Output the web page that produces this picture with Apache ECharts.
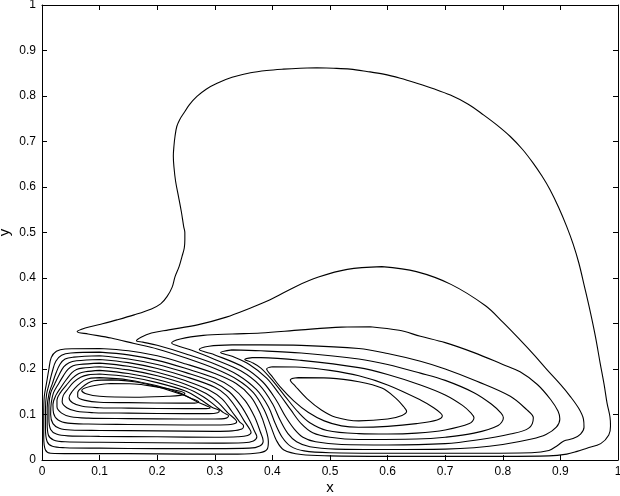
<!DOCTYPE html>
<html><head><meta charset="utf-8">
<script src="https://cdn.jsdelivr.net/npm/echarts@6/dist/echarts.min.js"></script>
<style>html,body{margin:0;padding:0;background:#fff}#c{width:620px;height:496px}</style>
</head><body><div id="c"></div>
<script>
// Tick labels
var xTicks = [0,0.1,0.2,0.3,0.4,0.5,0.6,0.7,0.8,0.9,1];
var yTicks = [0,0.1,0.2,0.3,0.4,0.5,0.6,0.7,0.8,0.9,1];

// Left vortex contours (outer A0 -> inner A10), [x, y]
var A0 = [[0.04,0.244],[0.1,0.245],[0.15,0.24],[0.2,0.229],[0.25,0.211],[0.3,0.19],[0.337,0.168],[0.362,0.14],[0.378,0.105],[0.388,0.07],[0.393,0.04],[0.391,0.024],[0.378,0.016],[0.34,0.013],[0.25,0.013],[0.15,0.014],[0.05,0.014],[0.015,0.015],[0.006,0.022],[0.003,0.05],[0.003,0.1],[0.004,0.14],[0.008,0.17],[0.012,0.2],[0.016,0.225],[0.025,0.239],[0.04,0.244]];
var A1 = [[0.05,0.235],[0.1,0.237],[0.15,0.231],[0.2,0.219],[0.25,0.201],[0.3,0.18],[0.33,0.159],[0.353,0.13],[0.369,0.095],[0.379,0.062],[0.384,0.042],[0.378,0.031],[0.36,0.026],[0.3,0.025],[0.2,0.025],[0.1,0.026],[0.04,0.027],[0.018,0.03],[0.009,0.04],[0.006,0.07],[0.006,0.11],[0.008,0.145],[0.013,0.17],[0.018,0.195],[0.024,0.217],[0.034,0.23],[0.05,0.235]];
var A2 = [[0.055,0.226],[0.1,0.229],[0.15,0.222],[0.2,0.21],[0.25,0.192],[0.3,0.17],[0.325,0.15],[0.345,0.12],[0.36,0.088],[0.369,0.063],[0.373,0.051],[0.367,0.042],[0.35,0.038],[0.3,0.037],[0.2,0.038],[0.1,0.039],[0.04,0.04],[0.02,0.044],[0.011,0.055],[0.009,0.08],[0.009,0.115],[0.012,0.145],[0.018,0.168],[0.024,0.19],[0.031,0.21],[0.04,0.222],[0.055,0.226]];
var A3 = [[0.06,0.218],[0.1,0.221],[0.15,0.214],[0.2,0.201],[0.25,0.183],[0.3,0.16],[0.32,0.142],[0.338,0.113],[0.351,0.086],[0.36,0.069],[0.363,0.061],[0.357,0.054],[0.34,0.051],[0.3,0.05],[0.2,0.051],[0.1,0.052],[0.045,0.053],[0.025,0.057],[0.015,0.067],[0.012,0.09],[0.012,0.12],[0.015,0.147],[0.022,0.167],[0.03,0.188],[0.038,0.205],[0.047,0.214],[0.06,0.218]];
var A4 = [[0.065,0.21],[0.1,0.213],[0.15,0.206],[0.2,0.193],[0.25,0.174],[0.29,0.154],[0.313,0.134],[0.33,0.106],[0.343,0.084],[0.35,0.075],[0.347,0.068],[0.33,0.064],[0.3,0.063],[0.2,0.064],[0.1,0.065],[0.05,0.066],[0.03,0.07],[0.019,0.08],[0.015,0.1],[0.016,0.125],[0.02,0.148],[0.028,0.166],[0.037,0.185],[0.045,0.199],[0.054,0.207],[0.065,0.21]];
var A5 = [[0.07,0.202],[0.1,0.205],[0.15,0.198],[0.2,0.185],[0.25,0.166],[0.285,0.146],[0.306,0.126],[0.323,0.103],[0.335,0.09],[0.338,0.084],[0.332,0.079],[0.31,0.077],[0.25,0.077],[0.15,0.078],[0.08,0.079],[0.045,0.081],[0.028,0.088],[0.02,0.103],[0.019,0.122],[0.024,0.142],[0.033,0.16],[0.043,0.178],[0.052,0.192],[0.06,0.199],[0.07,0.202]];
var A6 = [[0.075,0.194],[0.1,0.197],[0.15,0.19],[0.2,0.177],[0.25,0.158],[0.28,0.139],[0.3,0.12],[0.315,0.104],[0.324,0.097],[0.32,0.092],[0.3,0.09],[0.25,0.09],[0.15,0.091],[0.08,0.092],[0.05,0.095],[0.034,0.103],[0.026,0.117],[0.026,0.132],[0.032,0.148],[0.042,0.164],[0.053,0.18],[0.064,0.19],[0.075,0.194]];
var A7 = [[0.08,0.187],[0.1,0.189],[0.15,0.183],[0.2,0.17],[0.25,0.151],[0.275,0.133],[0.295,0.116],[0.308,0.108],[0.305,0.104],[0.29,0.102],[0.25,0.102],[0.15,0.103],[0.09,0.104],[0.06,0.107],[0.043,0.115],[0.035,0.128],[0.037,0.142],[0.045,0.156],[0.055,0.171],[0.067,0.182],[0.08,0.187]];
var A8 = [[0.085,0.18],[0.1,0.181],[0.15,0.176],[0.2,0.163],[0.24,0.147],[0.265,0.131],[0.285,0.119],[0.292,0.115],[0.285,0.113],[0.25,0.113],[0.15,0.114],[0.1,0.115],[0.07,0.118],[0.053,0.126],[0.047,0.137],[0.052,0.15],[0.062,0.164],[0.073,0.175],[0.085,0.18]];
var A9 = [[0.09,0.174],[0.12,0.176],[0.16,0.172],[0.2,0.161],[0.24,0.145],[0.262,0.134],[0.272,0.128],[0.265,0.125],[0.24,0.125],[0.15,0.126],[0.1,0.127],[0.075,0.131],[0.062,0.139],[0.062,0.148],[0.07,0.16],[0.08,0.169],[0.09,0.174]];
var A10 = [[0.069,0.153],[0.085,0.162],[0.119,0.168],[0.16,0.167],[0.188,0.163],[0.22,0.156],[0.24,0.151],[0.248,0.146],[0.24,0.142],[0.217,0.14],[0.16,0.138],[0.1,0.14],[0.078,0.145],[0.069,0.153]];

// Right vortex contours (outer B0 -> inner B7)
var B0 = [[0.061,0.282],[0.075,0.29],[0.1,0.298],[0.13,0.308],[0.16,0.319],[0.19,0.332],[0.206,0.343],[0.217,0.359],[0.226,0.38],[0.231,0.403],[0.238,0.425],[0.243,0.447],[0.247,0.466],[0.248,0.484],[0.248,0.5],[0.246,0.513],[0.242,0.545],[0.237,0.579],[0.232,0.612],[0.229,0.645],[0.228,0.668],[0.229,0.689],[0.231,0.712],[0.234,0.733],[0.239,0.748],[0.246,0.762],[0.256,0.781],[0.269,0.799],[0.285,0.815],[0.304,0.828],[0.33,0.841],[0.362,0.851],[0.39,0.856],[0.419,0.859],[0.448,0.861],[0.477,0.862],[0.506,0.861],[0.535,0.859],[0.564,0.854],[0.593,0.848],[0.622,0.839],[0.651,0.828],[0.68,0.816],[0.709,0.802],[0.74,0.782],[0.767,0.758],[0.79,0.736],[0.813,0.711],[0.834,0.683],[0.853,0.652],[0.868,0.624],[0.882,0.594],[0.897,0.555],[0.911,0.513],[0.922,0.475],[0.932,0.433],[0.942,0.38],[0.952,0.325],[0.961,0.27],[0.969,0.213],[0.976,0.165],[0.981,0.125],[0.986,0.095],[0.987,0.075],[0.984,0.055],[0.97,0.036],[0.946,0.026],[0.929,0.019],[0.911,0.013],[0.88,0.009],[0.8,0.008],[0.7,0.008],[0.6,0.008],[0.5,0.009],[0.45,0.012],[0.42,0.022],[0.407,0.043],[0.397,0.075],[0.385,0.112],[0.367,0.148],[0.34,0.176],[0.3,0.201],[0.25,0.224],[0.2,0.244],[0.16,0.256],[0.12,0.268],[0.08,0.277],[0.061,0.282]];
var B1 = [[0.164,0.262],[0.172,0.27],[0.19,0.279],[0.22,0.286],[0.27,0.297],[0.32,0.314],[0.36,0.333],[0.396,0.352],[0.44,0.381],[0.48,0.402],[0.53,0.419],[0.59,0.425],[0.65,0.414],[0.71,0.386],[0.77,0.339],[0.8,0.303],[0.83,0.264],[0.855,0.23],[0.877,0.198],[0.9,0.166],[0.917,0.14],[0.932,0.113],[0.94,0.09],[0.941,0.072],[0.935,0.057],[0.922,0.047],[0.906,0.042],[0.895,0.032],[0.88,0.021],[0.85,0.016],[0.75,0.015],[0.6,0.015],[0.5,0.016],[0.455,0.02],[0.432,0.03],[0.417,0.05],[0.405,0.08],[0.393,0.117],[0.372,0.155],[0.34,0.187],[0.3,0.211],[0.25,0.233],[0.2,0.252],[0.175,0.259],[0.164,0.262]];
var B2 = [[0.225,0.257],[0.24,0.266],[0.28,0.274],[0.33,0.277],[0.38,0.279],[0.45,0.286],[0.52,0.292],[0.57,0.293],[0.62,0.285],[0.657,0.272],[0.7,0.258],[0.75,0.236],[0.8,0.21],[0.83,0.194],[0.86,0.166],[0.883,0.133],[0.896,0.107],[0.899,0.09],[0.893,0.072],[0.875,0.056],[0.85,0.046],[0.8,0.034],[0.75,0.027],[0.7,0.024],[0.6,0.023],[0.51,0.024],[0.465,0.029],[0.442,0.04],[0.427,0.058],[0.414,0.086],[0.4,0.124],[0.378,0.164],[0.345,0.196],[0.3,0.221],[0.26,0.241],[0.235,0.251],[0.225,0.257]];
var B3 = [[0.273,0.243],[0.29,0.25],[0.33,0.253],[0.38,0.253],[0.45,0.252],[0.55,0.245],[0.6,0.234],[0.657,0.217],[0.7,0.2],[0.755,0.173],[0.813,0.14],[0.842,0.11],[0.853,0.093],[0.845,0.07],[0.813,0.057],[0.755,0.044],[0.7,0.036],[0.6,0.033],[0.52,0.034],[0.475,0.04],[0.453,0.05],[0.438,0.068],[0.423,0.095],[0.406,0.133],[0.383,0.172],[0.35,0.204],[0.3,0.231],[0.285,0.237],[0.273,0.243]];
var B4 = [[0.31,0.236],[0.33,0.242],[0.38,0.24],[0.45,0.235],[0.55,0.222],[0.6,0.21],[0.657,0.191],[0.7,0.175],[0.75,0.148],[0.78,0.123],[0.797,0.103],[0.801,0.093],[0.792,0.076],[0.75,0.059],[0.7,0.05],[0.65,0.046],[0.55,0.045],[0.5,0.05],[0.47,0.06],[0.45,0.08],[0.432,0.11],[0.412,0.145],[0.39,0.18],[0.36,0.21],[0.33,0.228],[0.31,0.236]];
var B5 = [[0.352,0.221],[0.365,0.225],[0.38,0.225],[0.45,0.219],[0.55,0.203],[0.6,0.188],[0.657,0.165],[0.7,0.143],[0.73,0.12],[0.745,0.103],[0.75,0.093],[0.742,0.08],[0.7,0.066],[0.65,0.059],[0.6,0.057],[0.55,0.058],[0.495,0.065],[0.465,0.082],[0.445,0.105],[0.422,0.14],[0.4,0.175],[0.38,0.202],[0.365,0.214],[0.352,0.221]];
var B6 = [[0.39,0.2],[0.4,0.205],[0.45,0.204],[0.5,0.197],[0.55,0.185],[0.6,0.165],[0.657,0.132],[0.68,0.115],[0.692,0.103],[0.695,0.097],[0.686,0.088],[0.65,0.08],[0.6,0.074],[0.55,0.072],[0.52,0.075],[0.49,0.086],[0.462,0.105],[0.437,0.13],[0.414,0.16],[0.398,0.186],[0.39,0.2]];
var B7 = [[0.431,0.176],[0.445,0.181],[0.5,0.18],[0.55,0.172],[0.59,0.158],[0.615,0.135],[0.628,0.117],[0.633,0.107],[0.625,0.098],[0.6,0.09],[0.55,0.086],[0.51,0.094],[0.485,0.11],[0.46,0.135],[0.44,0.162],[0.431,0.176]];

var contours = [A0,A1,A2,A3,A4,A5,A6,A7,A8,A9,A10,B0,B1,B2,B3,B4,B5,B6,B7];

// start each closed loop at its highest point so the seam falls on a flat stretch
function startAtTop(loop){
  var pts = loop.slice(0, loop.length-1);
  var k = 0;
  for (var i=1;i<pts.length;i++) if (pts[i][1] > pts[k][1]) k = i;
  var out = pts.slice(k).concat(pts.slice(0,k));
  out.push(out[0]);
  return out;
}

var FONT = 'Liberation Sans, Arial, Helvetica, sans-serif';
var chart = echarts.init(document.getElementById('c'), null, {renderer:'canvas'});
var series = contours.map(function(c){
  return {type:'line', data:startAtTop(c), showSymbol:false, smooth:0.35, silent:true,
    lineStyle:{color:'#000', width:1.1}, xAxisIndex:0, yAxisIndex:0};
});
function axisCommon(){
  return {type:'value', min:0, max:1, interval:0.1,
    axisLine:{show:true, onZero:false, lineStyle:{color:'#000', width:1}},
    axisTick:{show:true, inside:true, length:5, lineStyle:{color:'#000'}},
    splitLine:{show:false}};
}
var xb = axisCommon(); xb.position='bottom';
xb.axisLabel={color:'#000', fontSize:12, fontFamily:FONT, margin:6};
xb.name='x'; xb.nameLocation='middle'; xb.nameGap=20; xb.nameMoveOverlap=false;
xb.nameTextStyle={color:'#000', fontSize:15, fontFamily:FONT};
var xt = axisCommon(); xt.position='top'; xt.axisLabel={show:false};
var yl = axisCommon(); yl.position='left';
yl.axisLabel={color:'#000', fontSize:12, fontFamily:FONT, margin:6};
yl.name='y'; yl.nameLocation='middle'; yl.nameGap=30; yl.nameMoveOverlap=false;
yl.nameTextStyle={color:'#000', fontSize:15, fontFamily:FONT};
var yr = axisCommon(); yr.position='right'; yr.axisLabel={show:false};

chart.setOption({
  animation:false,
  backgroundColor:'#fff',
  grid:{left:42, right:2, top:5, bottom:36, containLabel:false, outerBoundsMode:'none'},
  xAxis:[xb, xt],
  yAxis:[yl, yr],
  series:series
});
</script></body></html>
